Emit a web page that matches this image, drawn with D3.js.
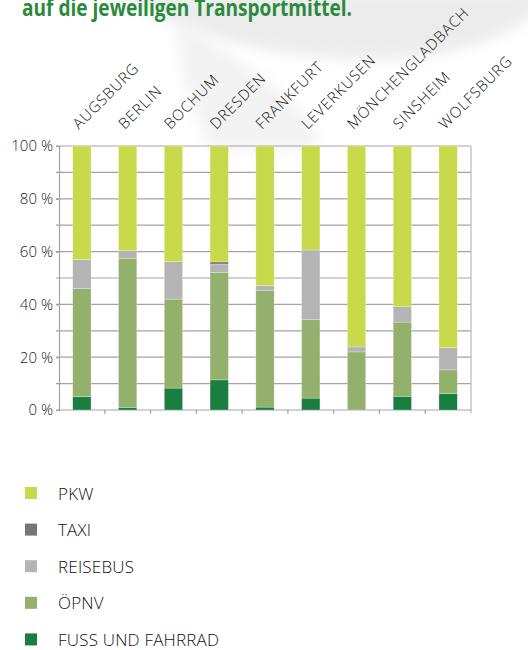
<!DOCTYPE html>
<html>
<head>
<meta charset="utf-8">
<script src="https://cdn.jsdelivr.net/npm/d3@7"></script>
<style>
  html, body { margin: 0; padding: 0; background: #fff; }
  svg { display: block; }
</style>
</head>
<body>
<svg id="chart"></svg>
<script>
// Modal split per stadium city (shares in %), bottom segment first.
const cities = ['AUGSBURG', 'BERLIN', 'BOCHUM', 'DRESDEN', 'FRANKFURT', 'LEVERKUSEN', 'MÖNCHENGLADBACH', 'SINSHEIM', 'WOLFSBURG'];
const fussUndFahrrad = [5, 1, 8.3, 11.4, 1.1, 4.5, 0, 5.2, 6.2];
const oepnv = [41, 56.5, 33.7, 40.7, 44.1, 29.7, 22, 28.1, 9];
const reisebus = [11, 3, 14.2, 3.2, 1.9, 26.4, 1.9, 5.8, 8.5];
const taxi = [0, 0, 0, 0.8, 0, 0, 0, 0, 0];
const pkw = [43, 39.5, 43.8, 43.9, 52.9, 39.4, 76.1, 60.9, 76.3];

const seriesKeys = ['fuss', 'oepnv', 'reisebus', 'taxi', 'pkw'];
const seriesLabels = { pkw: 'PKW', taxi: 'TAXI', reisebus: 'REISEBUS', oepnv: 'ÖPNV', fuss: 'FUSS UND FAHRRAD' };
const legendOrder = ['pkw', 'taxi', 'reisebus', 'oepnv', 'fuss'];
const yTicks = [0, 20, 40, 60, 80, 100];
const title = 'auf die jeweiligen Transportmittel.';

const colors = {
  pkw: '#c8da4c',
  taxi: '#767676',
  reisebus: '#b4b4b4',
  oepnv: '#93b06c',
  fuss: '#1a7e40',
};

const width = 528;
const height = 650;
const plot = { left: 59, right: 471, top: 146, bottom: 410 };
const labelFont = "'Open Sans', 'DejaVu Sans', sans-serif";

const svg = d3.select('#chart').attr('width', width).attr('height', height);

// Faint background swoosh (watermark in the source layout).
const bg = svg.append('g').attr('class', 'layer-bg');
const defs = svg.append('defs');
defs.append('filter').attr('id', 'soft')
  .append('feGaussianBlur').attr('stdDeviation', 7);
bg.append('path')
  .attr('d', 'M100,-10 C200,45 320,70 430,55 C480,48 515,30 540,10 L540,-10 Z')
  .attr('fill', '#ececec')
  .attr('filter', 'url(#soft)');
bg.append('path')
  .attr('d', 'M180,20 C270,80 340,130 310,150 L210,150 C195,110 170,60 180,20 Z')
  .attr('fill', '#f3f3f3')
  .attr('filter', 'url(#soft)');

// Title (cut off at top of the crop, as in the source).
svg.append('text')
  .attr('x', 22)
  .attr('y', 16)
  .attr('fill', '#2a8a3c')
  .attr('font-family', "'Open Sans', 'DejaVu Sans', sans-serif")
  .attr('font-weight', 700)
  .attr('font-size', 23)
  .attr('textLength', 330)
  .attr('lengthAdjust', 'spacingAndGlyphs')
  .text(title);

const rows = cities.map((city, i) => ({
  city,
  fuss: fussUndFahrrad[i],
  oepnv: oepnv[i],
  reisebus: reisebus[i],
  taxi: taxi[i],
  pkw: pkw[i],
}));

const x = d3.scaleBand()
  .domain(cities)
  .range([plot.left, plot.right])
  .paddingInner(0.6)
  .paddingOuter(0.3);

const xBounds = d3.scaleBand().domain(cities).range([plot.left, plot.right]).padding(0);

const y = d3.scaleLinear().domain([0, 100]).range([plot.bottom, plot.top]);

// Grid at every 10 %.
const grid = svg.append('g').attr('class', 'layer-grid');
grid.selectAll('line')
  .data(d3.range(10, 101, 10))
  .join('line')
  .attr('x1', plot.left - 3)
  .attr('x2', plot.right)
  .attr('y1', (d) => y(d))
  .attr('y2', (d) => y(d))
  .attr('stroke', '#a3a3a3')
  .attr('stroke-width', 1.2);

// Right border.
grid.append('line')
  .attr('x1', plot.right).attr('x2', plot.right)
  .attr('y1', plot.top).attr('y2', plot.bottom + 3)
  .attr('stroke', '#b8b8b8')
  .attr('stroke-width', 1.2);

// Y axis.
const yAxis = svg.append('g')
  .attr('transform', `translate(${plot.left},0)`)
  .call(d3.axisLeft(y).tickValues(yTicks).tickSize(3).tickFormat((d) => `${d} %`));
yAxis.select('.domain').attr('stroke', '#a3a3a3').attr('stroke-width', 1.2);
yAxis.selectAll('.tick line').attr('stroke', '#a3a3a3').attr('stroke-width', 1.2);
yAxis.selectAll('.tick text')
  .attr('x', -6)
  .attr('fill', '#1a1a1a')
  .attr('font-family', labelFont)
  .attr('font-weight', 300)
  .attr('font-size', 15);

// Bottom axis: ticks sit between categories.
const xAxis = svg.append('g').attr('class', 'x-axis');
xAxis.append('line')
  .attr('x1', plot.left - 3).attr('x2', plot.right)
  .attr('y1', plot.bottom).attr('y2', plot.bottom)
  .attr('stroke', '#a3a3a3')
  .attr('stroke-width', 1.2);
xAxis.selectAll('line.tick')
  .data(cities.slice(1))
  .join('line')
  .attr('class', 'tick')
  .attr('x1', (d) => xBounds(d))
  .attr('x2', (d) => xBounds(d))
  .attr('y1', plot.bottom)
  .attr('y2', plot.bottom + 4)
  .attr('stroke', '#a3a3a3')
  .attr('stroke-width', 1.2);

// Stacked bars.
const stacked = d3.stack().keys(seriesKeys)(rows);
svg.append('g').attr('class', 'layer-bars')
  .selectAll('g')
  .data(stacked)
  .join('g')
  .attr('fill', (s) => colors[s.key])
  .selectAll('rect')
  .data((s) => s.filter((d) => d[1] - d[0] > 0))
  .join('rect')
  .attr('x', (d) => x(d.data.city))
  .attr('width', x.bandwidth())
  .attr('y', (d) => y(d[1]))
  .attr('height', (d) => y(d[0]) - y(d[1]))
  .attr('stroke', '#ffffff')
  .attr('stroke-opacity', 0.5)
  .attr('stroke-width', 0.5);

// Category labels, rotated, above the plot.
svg.append('g').attr('class', 'layer-labels')
  .selectAll('text')
  .data(cities)
  .join('text')
  .attr('transform', (d) => `translate(${x(d) + x.bandwidth() / 2 - 3},130) rotate(-45)`)
  .attr('fill', '#111')
  .attr('font-family', labelFont)
  .attr('font-weight', 300)
  .attr('font-size', 15)
  .attr('letter-spacing', 0.9)
  .text((d) => d);

// Legend.
const legend = svg.append('g').attr('class', 'legend')
  .selectAll('g')
  .data(legendOrder)
  .join('g')
  .attr('transform', (d, i) => `translate(25,${493 + i * 36.6})`);
legend.append('rect')
  .attr('x', 0).attr('y', -6)
  .attr('width', 12).attr('height', 12)
  .attr('fill', (d) => colors[d]);
legend.append('text')
  .attr('x', 33)
  .attr('y', 6.5)
  .attr('fill', '#111')
  .attr('font-family', labelFont)
  .attr('font-weight', 300)
  .attr('font-size', 17)
  .attr('letter-spacing', 0.2)
  .text((d) => seriesLabels[d]);
</script>
</body>
</html>
